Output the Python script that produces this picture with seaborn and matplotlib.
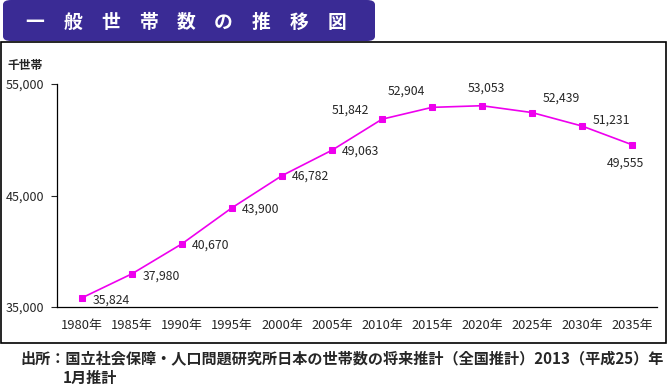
import matplotlib
matplotlib.use("Agg")
import matplotlib.pyplot as plt
from matplotlib.patches import FancyBboxPatch, Rectangle
from matplotlib.ticker import FixedLocator
import seaborn as sns
import pandas as pd

years = ["1980年", "1985年", "1990年", "1995年", "2000年", "2005年",
         "2010年", "2015年", "2020年", "2025年", "2030年", "2035年"]
households = [35824, 37980, 40670, 43900, 46782, 49063,
              51842, 52904, 53053, 52439, 51231, 49555]
title_chars = ["一", "般", "世", "帯", "数", "の", "推", "移", "図"]
unit = "千世帯"
source = "出所：国立社会保障・人口問題研究所日本の世帯数の将来推計（全国推計）2013（平成25）年"
source2 = "1月推計"

# label offsets (pixels, y up) for each data label
offsets = [(11, -2), (11, -2), (10, -1.5), (10, -1.5), (10, -1), (10, -1),
           (-50, 9), (-44, 16), (-14, 18), (11, 14), (11, 6), (-25, -18)]

sns.set_style("white")
plt.rcParams["font.family"] = ["Noto Sans CJK JP", "DejaVu Sans"]

df = pd.DataFrame({"x": range(len(years)), "households": households})

fig = plt.figure(figsize=(6.67, 3.89), dpi=100)
W, H = 667, 389

# title banner
fig.patches.append(FancyBboxPatch((3 / W, 348 / H), 372 / W, 41 / H,
                                  boxstyle="round,pad=0,rounding_size=0.012",
                                  transform=fig.transFigure, facecolor="#3a2b95",
                                  edgecolor="none"))
for i, ch in enumerate(title_chars):
    fig.text((35 + i * 37.7) / W, 367 / H, ch, color="white", fontsize=13.5,
             fontweight="bold", ha="center", va="center")

# chart frame
fig.patches.append(Rectangle((1 / W, 46 / H), 665 / W, 301 / H, transform=fig.transFigure,
                             facecolor="none", edgecolor="black", linewidth=1.2))

ax = fig.add_axes([57 / W, 82 / H, 600 / W, 223 / H])
sns.lineplot(data=df, x="x", y="households", ax=ax, color="#ee00ee", linewidth=1.2,
             marker="s", markersize=4, markeredgecolor="#ee00ee")

ax.set_xlim(-0.5, len(years) - 0.5)
ax.set_ylim(35000, 55000)
ax.set_xticks(range(len(years)))
ax.set_xticklabels(years, fontsize=9.3)
ax.xaxis.set_minor_locator(FixedLocator([i + 0.5 for i in range(len(years) - 1)]))
ax.tick_params(axis="x", which="major", length=0, pad=9)
ax.tick_params(axis="x", which="minor", length=4, direction="in", width=0.8)
ax.set_yticks([35000, 45000, 55000])
ax.set_yticklabels([f"{v:,}" for v in [35000, 45000, 55000]], fontsize=9)
ax.tick_params(axis="y", length=4, direction="out", width=0.8, left=True, pad=5)
ax.set_xlabel("")
ax.set_ylabel("")
sns.despine(ax=ax)
for s in ["left", "bottom"]:
    ax.spines[s].set_color("black")
    ax.spines[s].set_linewidth(0.9)

for i, (v, off) in enumerate(zip(households, offsets)):
    ax.annotate(f"{v:,}", (i, v), xytext=off, textcoords="offset pixels",
                fontsize=8.8, ha="left", va="center")

fig.text(7 / W, 323 / H, unit, fontsize=8.5, fontweight="bold", va="center")

fig.text(20 / W, 31 / H, source, fontsize=10.9, fontweight="bold", va="center")
fig.text(63 / W, 11 / H, source2, fontsize=10.9, fontweight="bold", va="center")

fig.savefig("out.png", dpi=100)
